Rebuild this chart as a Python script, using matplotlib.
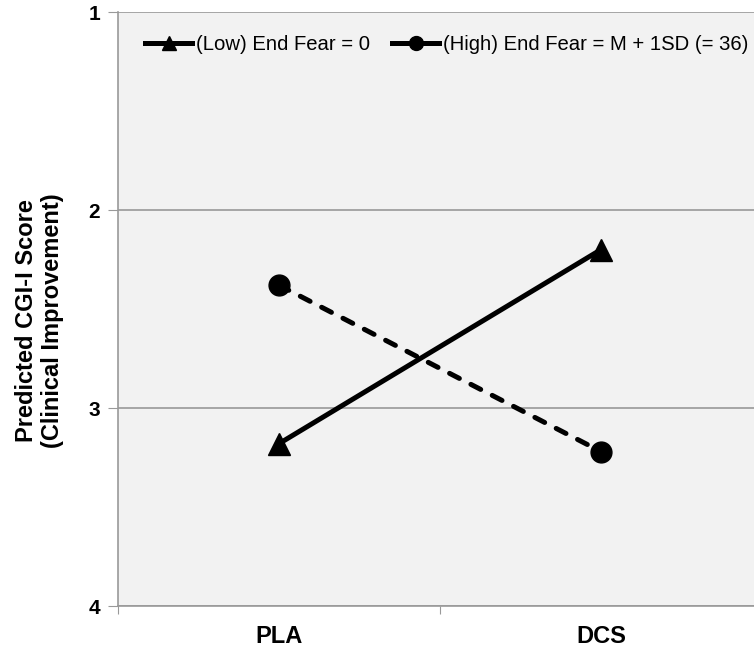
import matplotlib
matplotlib.use("Agg")
import matplotlib.pyplot as plt
from matplotlib.lines import Line2D

categories = ["PLA", "DCS"]
low_fear = [3.18, 2.20]
high_fear = [2.38, 3.22]
yticks = [1, 2, 3, 4]
low_label = "(Low) End Fear = 0"
high_label = "(High) End Fear = M + 1SD (= 36)"
ylabel = "Predicted CGI-I Score\n(Clinical Improvement)"

plt.rcParams['font.family'] = ['Liberation Sans', 'DejaVu Sans']

fig = plt.figure(figsize=(7.54, 6.54), dpi=100)
W, H = 754, 654
ax = fig.add_axes([118 / W, (654 - 606) / H, 644 / W, 594 / H])
ax.set_facecolor("#f2f2f2")

x = list(range(len(categories)))
ax.plot(x, low_fear, color="black", lw=3.6, marker="^", markersize=16,
        solid_capstyle="butt", label=low_label, clip_on=False)
ax.plot(x, high_fear, color="black", lw=3.6, ls=(0, (2.2, 2.6)), marker="o",
        markersize=15, dash_capstyle="round", label=high_label, clip_on=False)

ax.set_xlim(-0.5, 1.5)
ax.set_ylim(4, 1)
ax.set_yticks(yticks)
ax.set_yticklabels([str(t) for t in yticks], fontsize=15, fontweight="bold")
ax.set_xticks([-0.5, 0.5, 1.5])
ax.set_xticklabels([])
ax.set_xticks(x, minor=True)
ax.set_xticklabels(categories, minor=True, fontsize=17, fontweight="bold")
ax.tick_params(axis="x", which="minor", length=0, pad=14)
ax.tick_params(axis="x", which="major", length=6, color="#999999", direction="out")
ax.tick_params(axis="y", length=7, color="#999999", direction="out", pad=6)

ax.grid(axis="y", color="#999999", lw=1.2)
ax.set_axisbelow(True)
for s in ["top", "right"]:
    ax.spines[s].set_visible(False)
for s in ["left", "bottom"]:
    ax.spines[s].set_color("#999999")
    ax.spines[s].set_linewidth(1.2)

ax.set_ylabel(ylabel, fontsize=17, fontweight="bold", linespacing=1.15)
ax.yaxis.set_label_coords(-54 / 644, (606 - 321) / 594)

handles = [Line2D([], [], color="black", lw=3.6, marker="^", markersize=10),
           Line2D([], [], color="black", lw=3.6, marker="o", markersize=10)]
ax.legend(handles, [low_label, high_label], loc="upper left",
          bbox_to_anchor=(0.03, 0.975), ncol=2, frameon=False, fontsize=14.6,
          handlelength=2.3, handletextpad=0.2, columnspacing=1.1,
          borderaxespad=0.0)

fig.savefig("out.png", dpi=100)
